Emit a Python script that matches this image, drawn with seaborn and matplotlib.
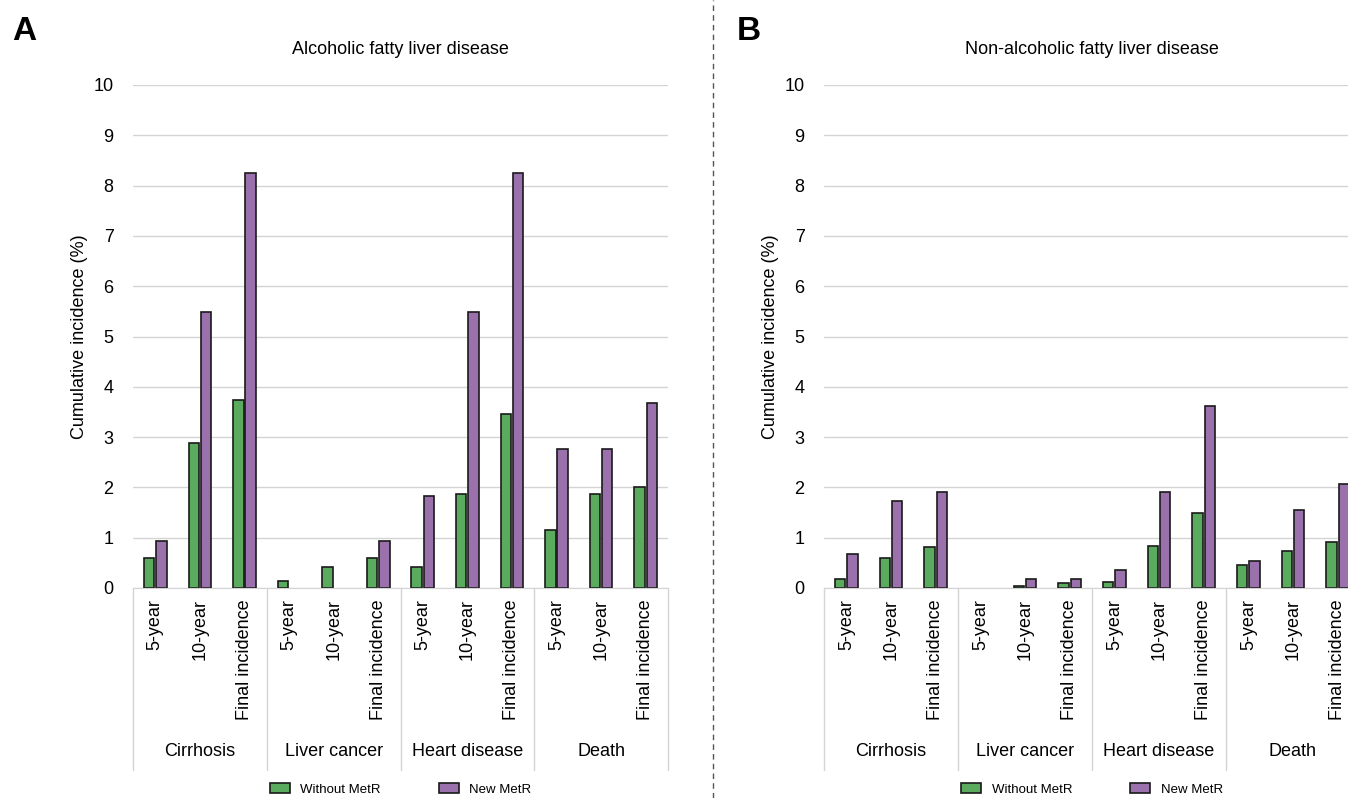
import seaborn as sns
import matplotlib.pyplot as plt
import matplotlib.transforms as mtransforms
from matplotlib.lines import Line2D
from matplotlib.patches import Patch
import pandas as pd

# data
groups = ["Cirrhosis", "Liver cancer", "Heart disease", "Death"]
periods = ["5-year", "10-year", "Final incidence"]
series = ["Without MetR", "New MetR"]

afld_without = [0.60, 2.88, 3.74, 0.14, 0.42, 0.60, 0.42, 1.87, 3.46, 1.15, 1.87, 2.01]
afld_new = [0.93, 5.49, 8.25, 0.0, 0.0, 0.93, 1.83, 5.49, 8.25, 2.76, 2.76, 3.68]

nafld_without = [0.17, 0.59, 0.81, 0.0, 0.04, 0.09, 0.11, 0.84, 1.50, 0.45, 0.73, 0.91]
nafld_new = [0.68, 1.73, 1.90, 0.0, 0.17, 0.17, 0.35, 1.90, 3.62, 0.53, 1.56, 2.07]

titles = ["Alcoholic fatty liver disease", "Non-alcoholic fatty liver disease"]
panel_letters = ["A", "B"]

colors = {"Without MetR": "#5aab5d", "New MetR": "#9a70ad"}

sns.set_style("white")
plt.rcParams['font.family'] = ['Liberation Sans', 'DejaVu Sans']
plt.rcParams['text.color'] = 'black'
plt.rcParams['xtick.color'] = 'black'
plt.rcParams['ytick.color'] = 'black'
plt.rcParams['axes.labelcolor'] = 'black'

keys = [g + "|" + p for g in groups for p in periods]


def make_df(without, new):
    rows = []
    for k, a, b in zip(keys, without, new):
        rows.append({"key": k, "series": series[0], "value": a})
        rows.append({"key": k, "series": series[1], "value": b})
    return pd.DataFrame(rows)


fig = plt.figure(figsize=(13.48, 7.98), dpi=100)
ax_a = fig.add_axes([133 / 1348, 1 - 588 / 798, 535 / 1348, 503 / 798])
ax_b = fig.add_axes([824 / 1348, 1 - 588 / 798, 536 / 1348, 503 / 798])

datasets = [(afld_without, afld_new), (nafld_without, nafld_new)]
letter_x = [12 / 1348, 737 / 1348]

for ax, (w, n), title, letter, lx in zip([ax_a, ax_b], datasets, titles,
                                         panel_letters, letter_x):
    df = make_df(w, n)
    sns.barplot(data=df, x="key", y="value", hue="series", order=keys,
                hue_order=series, palette=colors, saturation=1,
                edgecolor="#1a1a1a", linewidth=1.2, width=0.55, gap=0.15,
                legend=False, ax=ax)
    for p in ax.patches:
        if p.get_height() == 0:
            p.set_linewidth(0)

    ax.set_ylim(0, 10)
    ax.set_xlim(-0.5, len(keys) - 0.5)
    ax.set_yticks(range(0, 11))
    ax.yaxis.grid(True, color="#d4d4d4", linewidth=1)
    ax.set_axisbelow(True)
    for s in ["left", "right", "top"]:
        ax.spines[s].set_visible(False)
    ax.spines["bottom"].set_color("#d4d4d4")
    ax.tick_params(axis="both", length=0, labelsize=13)
    ax.tick_params(axis="x", pad=8)
    ax.tick_params(axis="y", pad=14)
    ax.set_xticks(range(len(keys)))
    ax.set_xticklabels([k.split("|")[1] for k in keys], rotation=90)
    ax.set_xlabel("")
    ax.set_ylabel("Cumulative incidence (%)", fontsize=13, labelpad=4)
    ax.set_title(title, fontsize=13, pad=22)

    # group separators and group labels below the axis
    trans = mtransforms.blended_transform_factory(ax.transData, ax.transAxes)
    for i in range(len(groups) + 1):
        xb = i * len(periods) - 0.5
        ax.plot([xb, xb], [0, -0.362], color="#d4d4d4", linewidth=1,
                transform=trans, clip_on=False)
    for i, g in enumerate(groups):
        xc = i * len(periods) + 1
        ax.text(xc, -0.325, g, transform=trans, ha="center", va="center",
                fontsize=13)

    handles = [Patch(facecolor=colors[s], edgecolor="#1a1a1a", linewidth=1.2)
               for s in series]
    ax.legend(handles, series, loc="center", bbox_to_anchor=(0.5, -0.40),
              ncol=2, frameon=False, fontsize=9.5, handlelength=1.5,
              handleheight=0.8, handletextpad=0.8, columnspacing=4.4)

    fig.text(lx, 1 - 32 / 798, letter, fontsize=24, fontweight="bold",
             ha="left", va="center")

# dashed divider between panels
fig.add_artist(Line2D([713 / 1348, 713 / 1348], [0, 1], color="#555555",
                      linewidth=1, linestyle=(0, (4, 3)),
                      transform=fig.transFigure))

fig.savefig("out.png", dpi=100)
